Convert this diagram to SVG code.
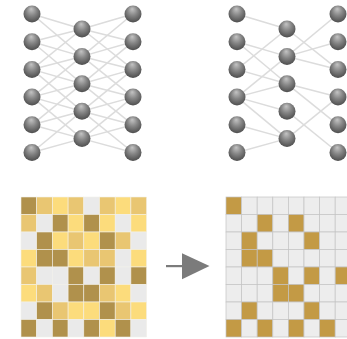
<svg xmlns="http://www.w3.org/2000/svg" width="347" height="339" viewBox="0 0 347 339">
<defs>
<radialGradient id="ball" cx="0.5" cy="0.4" r="0.6" fx="0.45" fy="0.2">
<stop offset="0" stop-color="#c4c4c4"/>
<stop offset="0.5" stop-color="#858585"/>
<stop offset="1" stop-color="#4e4e4e"/>
</radialGradient>
</defs>
<style>
.n{fill:url(#ball)}
.e{stroke:#dcdcdc;stroke-width:1.5;fill:none}
.D{fill:#b0914c}.G{fill:#e9c672}.Y{fill:#fcdc7c}.W{fill:#eaeaea}
.lg rect{stroke:#f2f0ea;stroke-width:0.6}
.w{fill:#ededed}.g{fill:#c39a45}
.rg rect{stroke:#c4c4c4;stroke-width:0.7}
</style>
<g id="connectors">
<g id="left-net-edges" class="e">
<line x1="32" y1="14" x2="82" y2="29"/><line x1="32" y1="14" x2="82" y2="56.4"/>
<line x1="32" y1="41.7" x2="82" y2="29"/><line x1="32" y1="41.7" x2="82" y2="56.4"/><line x1="32" y1="41.7" x2="82" y2="83.8"/>
<line x1="32" y1="69.4" x2="82" y2="29"/><line x1="32" y1="69.4" x2="82" y2="56.4"/><line x1="32" y1="69.4" x2="82" y2="83.8"/><line x1="32" y1="69.4" x2="82" y2="111.2"/>
<line x1="32" y1="97.1" x2="82" y2="56.4"/><line x1="32" y1="97.1" x2="82" y2="83.8"/><line x1="32" y1="97.1" x2="82" y2="111.2"/><line x1="32" y1="97.1" x2="82" y2="138.6"/>
<line x1="32" y1="124.8" x2="82" y2="83.8"/><line x1="32" y1="124.8" x2="82" y2="111.2"/><line x1="32" y1="124.8" x2="82" y2="138.6"/>
<line x1="32" y1="152.5" x2="82" y2="111.2"/><line x1="32" y1="152.5" x2="82" y2="138.6"/>
<line x1="133" y1="14" x2="82" y2="29"/><line x1="133" y1="14" x2="82" y2="56.4"/>
<line x1="133" y1="41.7" x2="82" y2="29"/><line x1="133" y1="41.7" x2="82" y2="56.4"/><line x1="133" y1="41.7" x2="82" y2="83.8"/>
<line x1="133" y1="69.4" x2="82" y2="29"/><line x1="133" y1="69.4" x2="82" y2="56.4"/><line x1="133" y1="69.4" x2="82" y2="83.8"/><line x1="133" y1="69.4" x2="82" y2="111.2"/>
<line x1="133" y1="97.1" x2="82" y2="56.4"/><line x1="133" y1="97.1" x2="82" y2="83.8"/><line x1="133" y1="97.1" x2="82" y2="111.2"/><line x1="133" y1="97.1" x2="82" y2="138.6"/>
<line x1="133" y1="124.8" x2="82" y2="83.8"/><line x1="133" y1="124.8" x2="82" y2="111.2"/><line x1="133" y1="124.8" x2="82" y2="138.6"/>
<line x1="133" y1="152.5" x2="82" y2="111.2"/><line x1="133" y1="152.5" x2="82" y2="138.6"/>
</g>
<g id="right-net-edges" class="e">
<line x1="237" y1="14" x2="287" y2="29"/>
<line x1="237" y1="41.7" x2="287" y2="56.4"/><line x1="237" y1="41.7" x2="287" y2="83.8"/>
<line x1="237" y1="69.4" x2="287" y2="29"/><line x1="237" y1="69.4" x2="287" y2="83.8"/>
<line x1="237" y1="97.1" x2="287" y2="56.4"/><line x1="237" y1="97.1" x2="287" y2="83.8"/><line x1="237" y1="97.1" x2="287" y2="111.2"/><line x1="237" y1="97.1" x2="287" y2="138.6"/>
<line x1="237" y1="124.8" x2="287" y2="138.6"/>
<line x1="237" y1="152.5" x2="287" y2="138.6"/>
<line x1="287" y1="29" x2="338" y2="69.4"/>
<line x1="287" y1="56.4" x2="338" y2="14"/><line x1="287" y1="56.4" x2="338" y2="41.7"/><line x1="287" y1="56.4" x2="338" y2="69.4"/>
<line x1="287" y1="83.8" x2="338" y2="97.1"/><line x1="287" y1="83.8" x2="338" y2="124.8"/>
<line x1="287" y1="111.2" x2="338" y2="152.5"/>
<line x1="287" y1="138.6" x2="338" y2="97.1"/>
</g>
<g id="arrow" fill="#7b7b7b">
<rect x="166" y="265" width="17" height="2.2"/>
<polygon points="182,253.3 209.5,266 182,279.3"/>
</g>
</g>
<g id="left-net">
<g id="L0"><circle class="n" cx="32" cy="14" r="8.5"/></g>
<g id="L1"><circle class="n" cx="32" cy="41.7" r="8.5"/></g>
<g id="L2"><circle class="n" cx="32" cy="69.4" r="8.5"/></g>
<g id="L3"><circle class="n" cx="32" cy="97.1" r="8.5"/></g>
<g id="L4"><circle class="n" cx="32" cy="124.8" r="8.5"/></g>
<g id="L5"><circle class="n" cx="32" cy="152.5" r="8.5"/></g>
<g id="M0"><circle class="n" cx="82" cy="29" r="8.5"/></g>
<g id="M1"><circle class="n" cx="82" cy="56.4" r="8.5"/></g>
<g id="M2"><circle class="n" cx="82" cy="83.8" r="8.5"/></g>
<g id="M3"><circle class="n" cx="82" cy="111.2" r="8.5"/></g>
<g id="M4"><circle class="n" cx="82" cy="138.6" r="8.5"/></g>
<g id="R0"><circle class="n" cx="133" cy="14" r="8.5"/></g>
<g id="R1"><circle class="n" cx="133" cy="41.7" r="8.5"/></g>
<g id="R2"><circle class="n" cx="133" cy="69.4" r="8.5"/></g>
<g id="R3"><circle class="n" cx="133" cy="97.1" r="8.5"/></g>
<g id="R4"><circle class="n" cx="133" cy="124.8" r="8.5"/></g>
<g id="R5"><circle class="n" cx="133" cy="152.5" r="8.5"/></g>
</g>
<g id="right-net">
<g id="PL0"><circle class="n" cx="237" cy="14" r="8.5"/></g>
<g id="PL1"><circle class="n" cx="237" cy="41.7" r="8.5"/></g>
<g id="PL2"><circle class="n" cx="237" cy="69.4" r="8.5"/></g>
<g id="PL3"><circle class="n" cx="237" cy="97.1" r="8.5"/></g>
<g id="PL4"><circle class="n" cx="237" cy="124.8" r="8.5"/></g>
<g id="PL5"><circle class="n" cx="237" cy="152.5" r="8.5"/></g>
<g id="PM0"><circle class="n" cx="287" cy="29" r="8.5"/></g>
<g id="PM1"><circle class="n" cx="287" cy="56.4" r="8.5"/></g>
<g id="PM2"><circle class="n" cx="287" cy="83.8" r="8.5"/></g>
<g id="PM3"><circle class="n" cx="287" cy="111.2" r="8.5"/></g>
<g id="PM4"><circle class="n" cx="287" cy="138.6" r="8.5"/></g>
<g id="PR0"><circle class="n" cx="338" cy="14" r="8.5"/></g>
<g id="PR1"><circle class="n" cx="338" cy="41.7" r="8.5"/></g>
<g id="PR2"><circle class="n" cx="338" cy="69.4" r="8.5"/></g>
<g id="PR3"><circle class="n" cx="338" cy="97.1" r="8.5"/></g>
<g id="PR4"><circle class="n" cx="338" cy="124.8" r="8.5"/></g>
<g id="PR5"><circle class="n" cx="338" cy="152.5" r="8.5"/></g>
</g>
<g id="dense-matrix" class="lg">
<rect class="D" x="21" y="197" width="15.7" height="17.5"/><rect class="G" x="36.7" y="197" width="15.7" height="17.5"/><rect class="Y" x="52.4" y="197" width="15.7" height="17.5"/><rect class="G" x="68.1" y="197" width="15.7" height="17.5"/><rect class="W" x="83.8" y="197" width="15.7" height="17.5"/><rect class="G" x="99.5" y="197" width="15.7" height="17.5"/><rect class="Y" x="115.2" y="197" width="15.7" height="17.5"/><rect class="G" x="130.9" y="197" width="15.7" height="17.5"/>
<rect class="G" x="21" y="214.5" width="15.7" height="17.5"/><rect class="W" x="36.7" y="214.5" width="15.7" height="17.5"/><rect class="D" x="52.4" y="214.5" width="15.7" height="17.5"/><rect class="Y" x="68.1" y="214.5" width="15.7" height="17.5"/><rect class="D" x="83.8" y="214.5" width="15.7" height="17.5"/><rect class="Y" x="99.5" y="214.5" width="15.7" height="17.5"/><rect class="W" x="115.2" y="214.5" width="15.7" height="17.5"/><rect class="Y" x="130.9" y="214.5" width="15.7" height="17.5"/>
<rect class="W" x="21" y="232" width="15.7" height="17.5"/><rect class="D" x="36.7" y="232" width="15.7" height="17.5"/><rect class="Y" x="52.4" y="232" width="15.7" height="17.5"/><rect class="G" x="68.1" y="232" width="15.7" height="17.5"/><rect class="Y" x="83.8" y="232" width="15.7" height="17.5"/><rect class="D" x="99.5" y="232" width="15.7" height="17.5"/><rect class="G" x="115.2" y="232" width="15.7" height="17.5"/><rect class="W" x="130.9" y="232" width="15.7" height="17.5"/>
<rect class="Y" x="21" y="249.5" width="15.7" height="17.5"/><rect class="D" x="36.7" y="249.5" width="15.7" height="17.5"/><rect class="D" x="52.4" y="249.5" width="15.7" height="17.5"/><rect class="Y" x="68.1" y="249.5" width="15.7" height="17.5"/><rect class="G" x="83.8" y="249.5" width="15.7" height="17.5"/><rect class="G" x="99.5" y="249.5" width="15.7" height="17.5"/><rect class="W" x="115.2" y="249.5" width="15.7" height="17.5"/><rect class="Y" x="130.9" y="249.5" width="15.7" height="17.5"/>
<rect class="G" x="21" y="267" width="15.7" height="17.5"/><rect class="W" x="36.7" y="267" width="15.7" height="17.5"/><rect class="W" x="52.4" y="267" width="15.7" height="17.5"/><rect class="D" x="68.1" y="267" width="15.7" height="17.5"/><rect class="W" x="83.8" y="267" width="15.7" height="17.5"/><rect class="D" x="99.5" y="267" width="15.7" height="17.5"/><rect class="W" x="115.2" y="267" width="15.7" height="17.5"/><rect class="D" x="130.9" y="267" width="15.7" height="17.5"/>
<rect class="Y" x="21" y="284.5" width="15.7" height="17.5"/><rect class="G" x="36.7" y="284.5" width="15.7" height="17.5"/><rect class="W" x="52.4" y="284.5" width="15.7" height="17.5"/><rect class="D" x="68.1" y="284.5" width="15.7" height="17.5"/><rect class="D" x="83.8" y="284.5" width="15.7" height="17.5"/><rect class="G" x="99.5" y="284.5" width="15.7" height="17.5"/><rect class="Y" x="115.2" y="284.5" width="15.7" height="17.5"/><rect class="W" x="130.9" y="284.5" width="15.7" height="17.5"/>
<rect class="W" x="21" y="302" width="15.7" height="17.5"/><rect class="D" x="36.7" y="302" width="15.7" height="17.5"/><rect class="G" x="52.4" y="302" width="15.7" height="17.5"/><rect class="Y" x="68.1" y="302" width="15.7" height="17.5"/><rect class="Y" x="83.8" y="302" width="15.7" height="17.5"/><rect class="D" x="99.5" y="302" width="15.7" height="17.5"/><rect class="G" x="115.2" y="302" width="15.7" height="17.5"/><rect class="Y" x="130.9" y="302" width="15.7" height="17.5"/>
<rect class="D" x="21" y="319.5" width="15.7" height="17.5"/><rect class="W" x="36.7" y="319.5" width="15.7" height="17.5"/><rect class="D" x="52.4" y="319.5" width="15.7" height="17.5"/><rect class="W" x="68.1" y="319.5" width="15.7" height="17.5"/><rect class="D" x="83.8" y="319.5" width="15.7" height="17.5"/><rect class="Y" x="99.5" y="319.5" width="15.7" height="17.5"/><rect class="D" x="115.2" y="319.5" width="15.7" height="17.5"/><rect class="W" x="130.9" y="319.5" width="15.7" height="17.5"/>
</g>
<g id="sparse-matrix" class="rg">
<rect class="g" x="226" y="197" width="15.6" height="17.5"/><rect class="w" x="241.6" y="197" width="15.6" height="17.5"/><rect class="w" x="257.2" y="197" width="15.6" height="17.5"/><rect class="w" x="272.8" y="197" width="15.6" height="17.5"/><rect class="w" x="288.4" y="197" width="15.6" height="17.5"/><rect class="w" x="304" y="197" width="15.6" height="17.5"/><rect class="w" x="319.6" y="197" width="15.6" height="17.5"/><rect class="w" x="335.2" y="197" width="15.6" height="17.5"/>
<rect class="w" x="226" y="214.5" width="15.6" height="17.5"/><rect class="w" x="241.6" y="214.5" width="15.6" height="17.5"/><rect class="g" x="257.2" y="214.5" width="15.6" height="17.5"/><rect class="w" x="272.8" y="214.5" width="15.6" height="17.5"/><rect class="g" x="288.4" y="214.5" width="15.6" height="17.5"/><rect class="w" x="304" y="214.5" width="15.6" height="17.5"/><rect class="w" x="319.6" y="214.5" width="15.6" height="17.5"/><rect class="w" x="335.2" y="214.5" width="15.6" height="17.5"/>
<rect class="w" x="226" y="232" width="15.6" height="17.5"/><rect class="g" x="241.6" y="232" width="15.6" height="17.5"/><rect class="w" x="257.2" y="232" width="15.6" height="17.5"/><rect class="w" x="272.8" y="232" width="15.6" height="17.5"/><rect class="w" x="288.4" y="232" width="15.6" height="17.5"/><rect class="g" x="304" y="232" width="15.6" height="17.5"/><rect class="w" x="319.6" y="232" width="15.6" height="17.5"/><rect class="w" x="335.2" y="232" width="15.6" height="17.5"/>
<rect class="w" x="226" y="249.5" width="15.6" height="17.5"/><rect class="g" x="241.6" y="249.5" width="15.6" height="17.5"/><rect class="g" x="257.2" y="249.5" width="15.6" height="17.5"/><rect class="w" x="272.8" y="249.5" width="15.6" height="17.5"/><rect class="w" x="288.4" y="249.5" width="15.6" height="17.5"/><rect class="w" x="304" y="249.5" width="15.6" height="17.5"/><rect class="w" x="319.6" y="249.5" width="15.6" height="17.5"/><rect class="w" x="335.2" y="249.5" width="15.6" height="17.5"/>
<rect class="w" x="226" y="267" width="15.6" height="17.5"/><rect class="w" x="241.6" y="267" width="15.6" height="17.5"/><rect class="w" x="257.2" y="267" width="15.6" height="17.5"/><rect class="g" x="272.8" y="267" width="15.6" height="17.5"/><rect class="w" x="288.4" y="267" width="15.6" height="17.5"/><rect class="g" x="304" y="267" width="15.6" height="17.5"/><rect class="w" x="319.6" y="267" width="15.6" height="17.5"/><rect class="g" x="335.2" y="267" width="15.6" height="17.5"/>
<rect class="w" x="226" y="284.5" width="15.6" height="17.5"/><rect class="w" x="241.6" y="284.5" width="15.6" height="17.5"/><rect class="w" x="257.2" y="284.5" width="15.6" height="17.5"/><rect class="g" x="272.8" y="284.5" width="15.6" height="17.5"/><rect class="g" x="288.4" y="284.5" width="15.6" height="17.5"/><rect class="w" x="304" y="284.5" width="15.6" height="17.5"/><rect class="w" x="319.6" y="284.5" width="15.6" height="17.5"/><rect class="w" x="335.2" y="284.5" width="15.6" height="17.5"/>
<rect class="w" x="226" y="302" width="15.6" height="17.5"/><rect class="g" x="241.6" y="302" width="15.6" height="17.5"/><rect class="w" x="257.2" y="302" width="15.6" height="17.5"/><rect class="w" x="272.8" y="302" width="15.6" height="17.5"/><rect class="w" x="288.4" y="302" width="15.6" height="17.5"/><rect class="g" x="304" y="302" width="15.6" height="17.5"/><rect class="w" x="319.6" y="302" width="15.6" height="17.5"/><rect class="w" x="335.2" y="302" width="15.6" height="17.5"/>
<rect class="g" x="226" y="319.5" width="15.6" height="17.5"/><rect class="w" x="241.6" y="319.5" width="15.6" height="17.5"/><rect class="g" x="257.2" y="319.5" width="15.6" height="17.5"/><rect class="w" x="272.8" y="319.5" width="15.6" height="17.5"/><rect class="g" x="288.4" y="319.5" width="15.6" height="17.5"/><rect class="w" x="304" y="319.5" width="15.6" height="17.5"/><rect class="g" x="319.6" y="319.5" width="15.6" height="17.5"/><rect class="w" x="335.2" y="319.5" width="15.6" height="17.5"/>
</g>
</svg>
